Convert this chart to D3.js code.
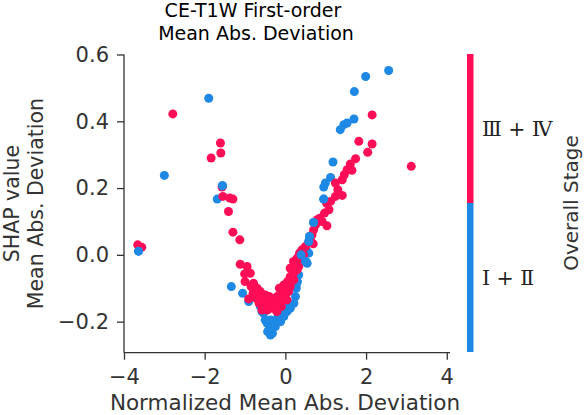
<!DOCTYPE html>
<html>
<head>
<meta charset="utf-8">
<script src="https://cdn.jsdelivr.net/npm/d3@7"></script>
<style>
  html, body { margin: 0; padding: 0; background: #fff; }
  svg { display: block; font-family: "DejaVu Sans", Verdana, sans-serif; }
</style>
</head>
<body>
<svg id="chart" width="584" height="415"></svg>
<script>
// ---------- data ----------
const titleLines = ["CE-T1W First-order", " Mean Abs. Deviation"];
const xLabel = "Normalized Mean Abs. Deviation";
const yLabelLines = ["SHAP value", "Mean Abs. Deviation"];
const colorbarTitle = "Overall Stage";
const stageNames = ["Ⅰ + Ⅱ", "Ⅲ + Ⅳ"];
const stageColors = ["#1e88e5", "#ff0d57"];

const xTicks = [-4, -2, 0, 2, 4];
const xTickLabels = ["−4", "−2", "0", "2", "4"];
const yTicks = [-0.2, 0.0, 0.2, 0.4, 0.6];
const yTickLabels = ["−0.2", "0.0", "0.2", "0.4", "0.6"];

// Stage I + II (blue) points: [normalized feature value, SHAP value]
const stageLowPoints = [
  [2.56, 0.552], [1.99, 0.534], [1.71, 0.489], [1.70, 0.407], [1.53, 0.395],
  [1.45, 0.390], [1.36, 0.375], [1.18, 0.278], [1.12, 0.232], [0.99, 0.215],
  [0.95, 0.203], [0.95, 0.167], [0.70, 0.097], [0.60, 0.055], [0.58, 0.040],
  [0.54, 0.010], [0.39, 0.000], [0.50, -0.020], [0.37, -0.005],
  [-1.90, 0.469], [-3.00, 0.238], [-1.56, 0.207], [-1.69, 0.167], [-3.64, 0.011],
  [-1.34, -0.095], [-1.06, -0.115], [-0.91, -0.140],
  [-0.54, -0.175], [-0.58, -0.170], [-0.50, -0.195], [-0.37, -0.195], [-0.41, -0.225],
  [-0.37, -0.240], [-0.32, -0.235], [-0.25, -0.215], [-0.12, -0.200], [-0.04, -0.185],
  [0.04, -0.170], [0.12, -0.160], [0.21, -0.145], [0.25, -0.125], [0.27, -0.100],
  [0.30, -0.080], [-0.45, -0.205], [-0.30, -0.205], [-0.20, -0.190], [-0.62, -0.155],
  [-0.08, -0.170], [0.33, -0.060], [-0.44, -0.230], [0.08, -0.150], [0.27, -0.090],
  [0.54, -0.025], [0.58, 0.005]
];

// Stage III + IV (red) points
const stageHighPoints = [
  [2.15, 0.419], [1.82, 0.340], [2.15, 0.332], [2.04, 0.307], [3.12, 0.265],
  [1.74, 0.288], [1.61, 0.272], [1.53, 0.255], [1.65, 0.253], [1.46, 0.240],
  [1.41, 0.225], [1.24, 0.215], [1.30, 0.195], [1.41, 0.178], [1.24, 0.175],
  [1.02, 0.155], [0.97, 0.125], [0.79, 0.105], [0.91, 0.100], [1.03, 0.087],
  [0.70, 0.075], [0.66, 0.060], [0.69, 0.033], [0.50, 0.025], [0.41, 0.015],
  [0.29, -0.010], [0.25, -0.030], [0.12, -0.040], [0.12, -0.065], [0.62, 0.045],
  [0.75, 0.090], [0.85, 0.110], [1.08, 0.135], [1.12, 0.160], [0.35, 0.005],
  [0.20, -0.020], [0.45, 0.000],
  [-2.79, 0.422], [-1.61, 0.335], [-1.60, 0.305], [-1.84, 0.290], [-1.57, 0.203],
  [-1.55, 0.175], [-1.38, 0.170], [-1.30, 0.167], [-1.41, 0.130], [-1.30, 0.068],
  [-1.13, 0.045], [-3.66, 0.030], [-3.56, 0.023],
  [-1.12, -0.028], [-0.95, -0.035], [-1.01, -0.057], [-0.87, -0.055], [-0.79, -0.085],
  [-0.62, -0.110], [-0.72, -0.130], [-0.91, -0.132], [-0.45, -0.140], [-0.29, -0.130],
  [-0.12, -0.120], [0.00, -0.115], [-0.12, -0.140], [-0.37, -0.155], [-0.54, -0.155],
  [0.04, -0.135], [-0.04, -0.100], [0.12, -0.095], [0.21, -0.075], [0.29, -0.045],
  [0.37, -0.020], [-0.70, -0.100], [-0.80, -0.115], [-0.60, -0.130], [-0.50, -0.120],
  [-0.40, -0.125], [-0.20, -0.125], [-0.25, -0.150], [-0.05, -0.130], [0.08, -0.110],
  [0.15, -0.080], [0.20, -0.055], [-0.65, -0.145], [-0.32, -0.160], [-0.15, -0.100],
  [0.05, -0.080], [-1.00, -0.080], [-0.85, -0.095], [0.28, -0.025], [0.33, -0.035],
  [-0.10, -0.155], [-0.45, -0.165], [-0.58, -0.165], [-0.21, -0.170], [-0.04, -0.090]
];

// Blue points that were plotted after the red ones (on top)
const stageLowTopPoints = [
  [0.60, 0.055], [0.58, 0.040], [0.39, 0.000], [0.50, -0.020], [0.95, 0.167],
  [0.70, 0.097], [-1.56, 0.207], [-3.64, 0.011]
];

// ---------- layout ----------
const svg = d3.select("#chart");
const x = d3.scaleLinear().domain([-4, 4.08]).range([124, 450]);
const y = d3.scaleLinear().domain([-0.293, 0.6]).range([352.7, 54.5]);
const axisColor = "#333333";

// points
const r = 4.5;
const gPts = svg.append("g");
function drawPts(data, color) {
  gPts.append("g").selectAll("circle").data(data).join("circle")
    .attr("cx", d => x(d[0])).attr("cy", d => y(d[1]))
    .attr("r", r).attr("fill", color);
}
drawPts(stageLowPoints, stageColors[0]);
drawPts(stageHighPoints, stageColors[1]);
drawPts(stageLowTopPoints, stageColors[0]);

// axes
const xAxis = d3.axisBottom(x).tickValues(xTicks).tickSize(7).tickPadding(9)
  .tickFormat((d, i) => xTickLabels[i]);
const yAxis = d3.axisLeft(y).tickValues(yTicks).tickSize(7).tickPadding(8)
  .tickFormat((d, i) => yTickLabels[i]);

const gx = svg.append("g").attr("transform", `translate(0,${y.range()[0]})`).call(xAxis);
const gy = svg.append("g").attr("transform", `translate(${x.range()[0]},0)`).call(yAxis);
[gx, gy].forEach(g => {
  g.select(".domain").attr("stroke", axisColor).attr("stroke-width", 1.3);
  g.selectAll(".tick line").attr("stroke", axisColor).attr("stroke-width", 1.3);
  g.selectAll(".tick text").attr("fill", axisColor)
    .style("font-family", "DejaVu Sans").style("font-size", "21px");
});
gx.select(".domain").attr("d", `M${x.range()[0]},0H${x.range()[1]}`);
gy.select(".domain").attr("d", `M0,${y.range()[0]}V${y.range()[1]}`);

// x label
svg.append("text").attr("x", 285).attr("y", 410).attr("text-anchor", "middle")
  .attr("fill", axisColor).style("font-size", "21.5px").text(xLabel);

// y labels
const yMid = (y.range()[0] + y.range()[1]) / 2;
[19, 43].forEach((bx, i) => {
  svg.append("text").attr("transform", `translate(${bx},${yMid}) rotate(-90)`)
    .attr("text-anchor", "middle").attr("fill", axisColor)
    .style("font-size", "20.5px").text(yLabelLines[i]);
});

// title
svg.append("text").attr("x", 253).attr("y", 17).attr("text-anchor", "middle")
  .attr("fill", "#000").style("font-size", "19px").text(titleLines[0]);
svg.append("text").attr("x", 253).attr("y", 40).attr("text-anchor", "middle")
  .attr("fill", "#000").style("font-size", "19px").style("white-space", "pre")
  .attr("xml:space", "preserve").text(titleLines[1]);

// colorbar
const cbX = 467, cbW = 6.5;
const cb = d3.scaleLinear().domain([0, 2]).range([352, 54]);
[0, 1].forEach(i => {
  svg.append("rect").attr("x", cbX).attr("width", cbW)
    .attr("y", cb(i + 1)).attr("height", cb(i) - cb(i + 1))
    .attr("fill", stageColors[i]);
  svg.append("text").attr("x", 482).attr("y", (cb(i) + cb(i + 1)) / 2 + 7)
    .attr("fill", "#222").style("font-family", "'DejaVu Serif', 'Noto Serif', serif")
    .style("font-size", "20.5px").text(stageNames[i]);
});
svg.append("text").attr("transform", `translate(578,${(cb(0) + cb(2)) / 2}) rotate(-90)`)
  .attr("text-anchor", "middle").attr("fill", axisColor)
  .style("font-size", "20px").text(colorbarTitle);
</script>
</body>
</html>
